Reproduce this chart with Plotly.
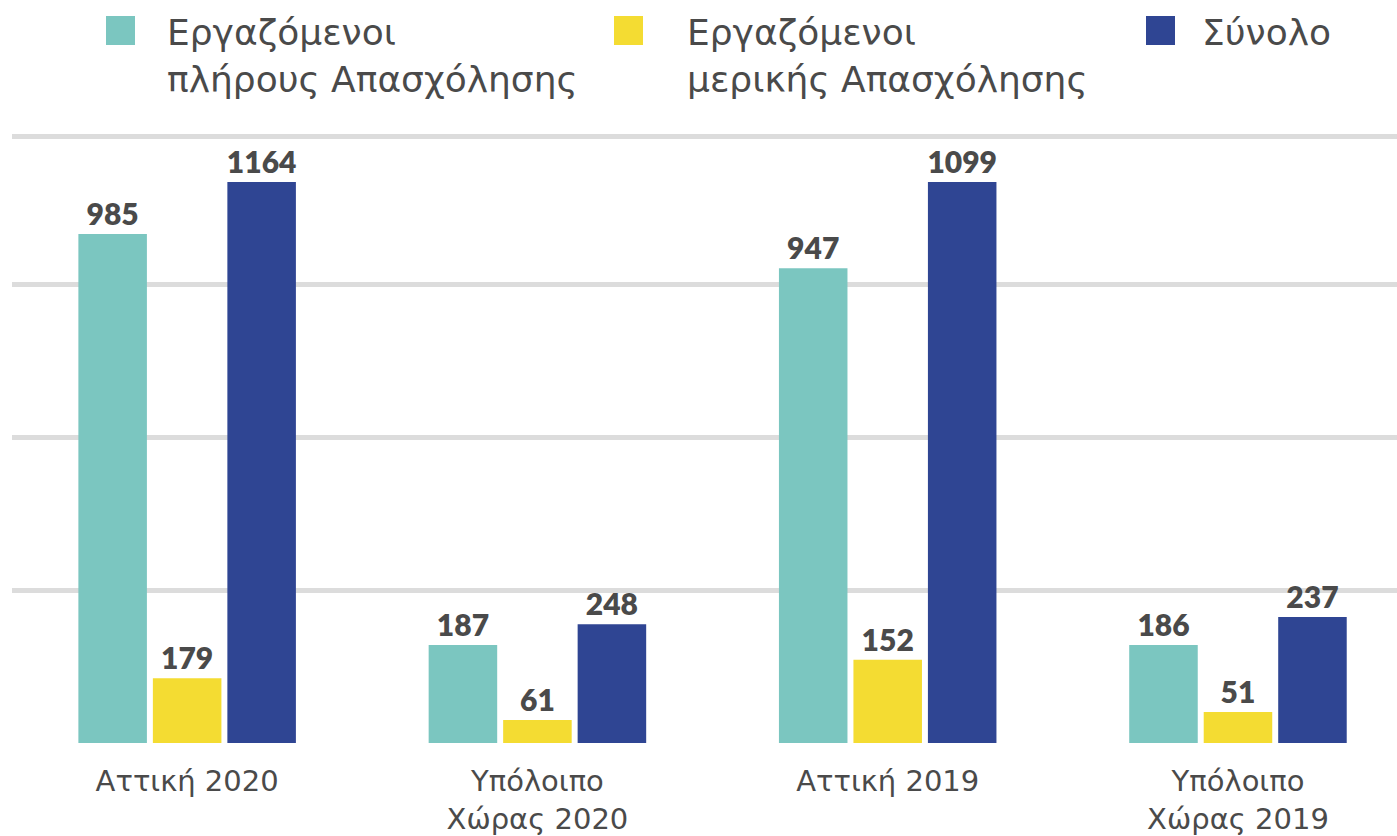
import plotly.graph_objects as go

# ---- data ----
categories = ["Αττική 2020", "Υπόλοιπο<br>Χώρας 2020", "Αττική 2019", "Υπόλοιπο<br>Χώρας 2019"]
series_names = ["Εργαζόμενοι<br>πλήρους Απασχόλησης",
                "Εργαζόμενοι<br>μερικής Απασχόλησης",
                "Σύνολο"]
# printed value labels
full_time_labels = [985, 187, 947, 186]
part_time_labels = [179, 61, 152, 51]
total_labels = [1164, 248, 1099, 237]
# bar heights as drawn in the picture (axis gridlines every 300)
full_time_heights = [998, 192, 931, 192]
part_time_heights = [127, 45, 163, 61]
total_heights = [1100, 233, 1100, 247]
grid_values = [0, 300, 600, 900, 1190]

colors = ["#7bc6c0", "#f4dc32", "#2f4593"]
text_color = "#4a4a4a"

W, H = 1397, 836


def px(x):
    return x / W


def py(y):
    return 1 - y / H


fig = go.Figure()
for name, heights, labels, col in zip(series_names,
                                      [full_time_heights, part_time_heights, total_heights],
                                      [full_time_labels, part_time_labels, total_labels],
                                      colors):
    fig.add_trace(go.Bar(
        x=categories, y=heights, name=name,
        marker=dict(color=col, line=dict(width=0)),
        text=[str(v) for v in labels], textposition="outside",
        constraintext="none", cliponaxis=False,
        textfont=dict(family="Lato", size=30, color=text_color, weight=800),
        showlegend=False,
    ))

# custom legend (large square swatches)
legend_sq_x = [106, 614, 1146]
legend_txt_x = [165, 685, 1200]
for name, col, sx, tx in zip(series_names, colors, legend_sq_x, legend_txt_x):
    fig.add_shape(type="rect", xref="paper", yref="paper",
                  x0=px(sx), x1=px(sx + 29), y0=py(45), y1=py(16),
                  fillcolor=col, line=dict(width=0))
    fig.add_annotation(xref="paper", yref="paper", x=px(tx), y=py(10),
                       xanchor="left", yanchor="top", align="left",
                       text=name, showarrow=False,
                       font=dict(family="DejaVu Sans", size=36, color=text_color))

fig.update_layout(
    width=W, height=H,
    margin=dict(l=0, r=0, t=0, b=0),
    paper_bgcolor="white", plot_bgcolor="white",
    barmode="group", bargap=0.362, bargroupgap=0.08,
    xaxis=dict(domain=[px(12), 1], range=[-0.5, 3.454],
               showgrid=False, zeroline=False, showline=False,
               ticks="outside", ticklen=12, tickcolor="rgba(0,0,0,0)",
               tickfont=dict(family="DejaVu Sans", size=29, color=text_color),
               automargin=False),
    yaxis=dict(domain=[py(743), py(120)], range=[0, (743 - 120) / 0.51],
               tickvals=grid_values, showticklabels=False,
               showgrid=True, gridcolor="#dcdcdc", gridwidth=4.5,
               zeroline=False, showline=False, automargin=False),
)

fig.write_html("out.html", config={"displayModeBar": False},
               post_script="document.body.style.margin='0';")
